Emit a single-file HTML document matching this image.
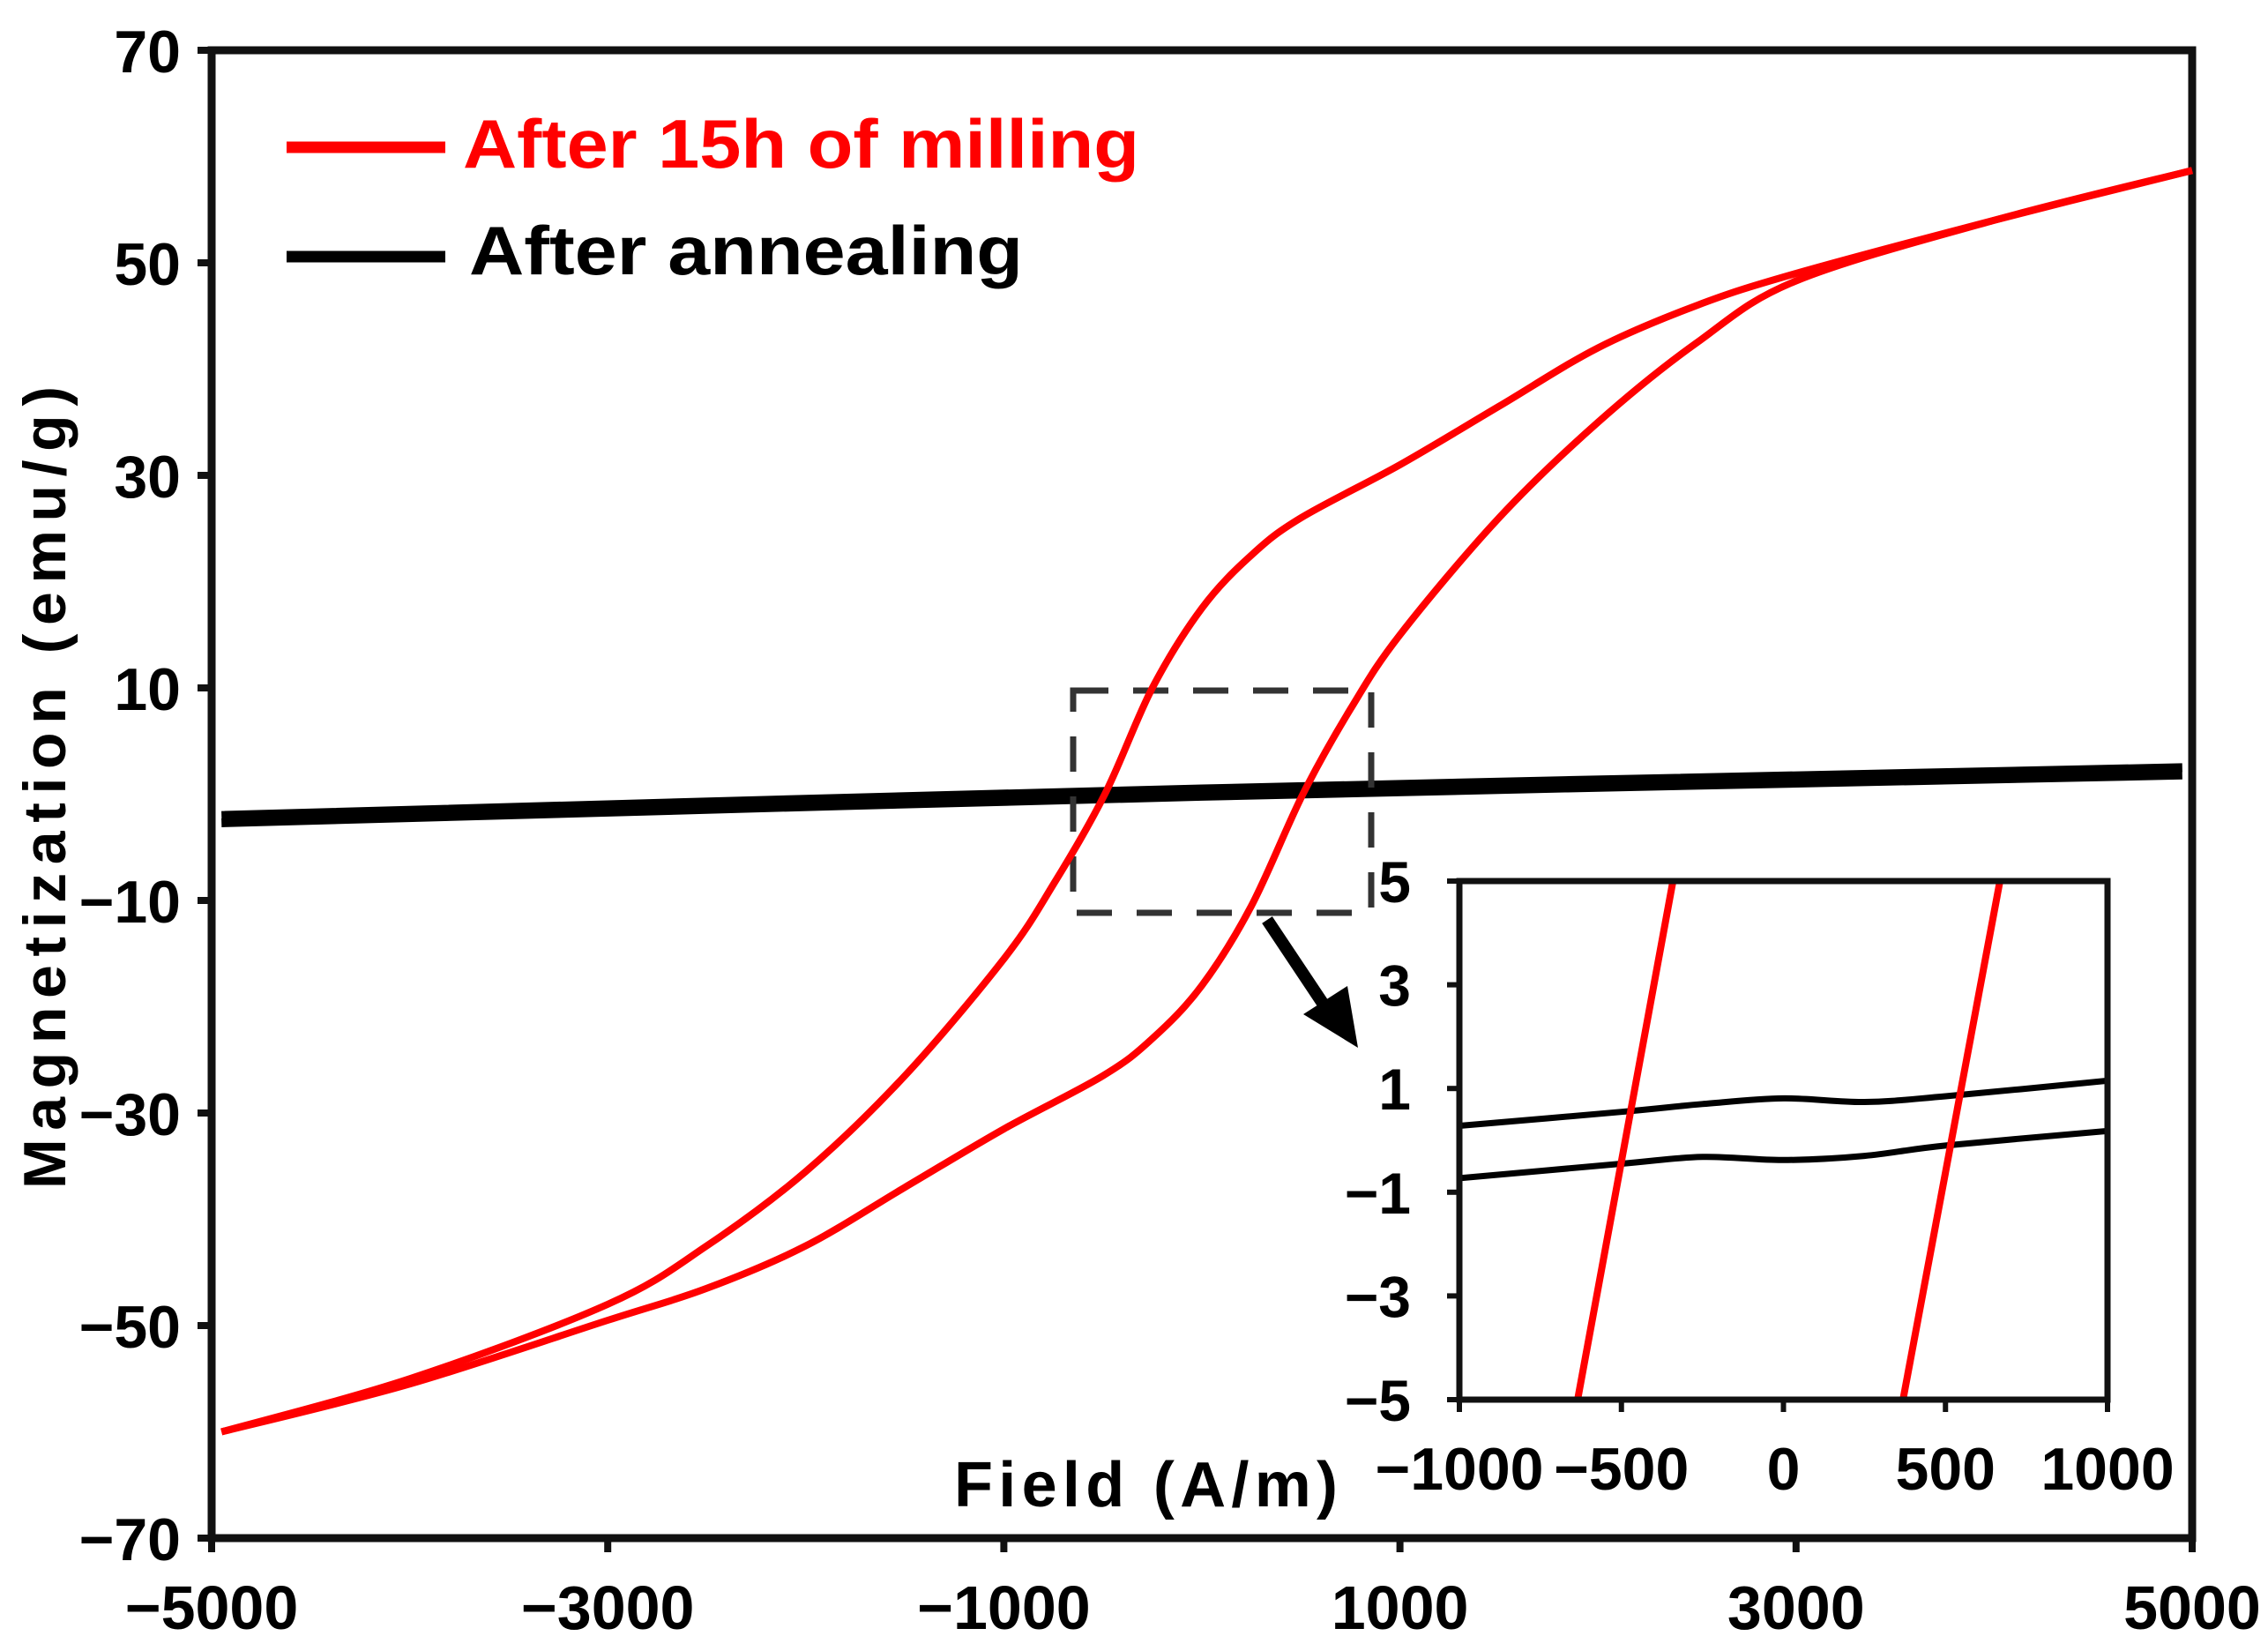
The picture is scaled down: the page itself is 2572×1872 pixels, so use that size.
<!DOCTYPE html>
<html><head><meta charset="utf-8"><style>
html,body{margin:0;padding:0;background:#fff;}
svg{display:block;}
text{font-family:"Liberation Sans Narrow","Liberation Sans",sans-serif;}
</style></head><body>
<svg id="chart" width="2572" height="1872" viewBox="0 0 2572 1872" xmlns="http://www.w3.org/2000/svg">
<rect x="0" y="0" width="2572" height="1872" fill="#fff"/>
<g id="main"></g>
<g id="inset"></g>
</svg>
<script>
// ---- main chart data ----
const xTicks = [-5000, -3000, -1000, 1000, 3000, 5000];
const xTickLabels = ["\u22125000", "\u22123000", "\u22121000", "1000", "3000", "5000"];
const yTicks = [70, 50, 30, 10, -10, -30, -50, -70];
const yTickLabels = ["70", "50", "30", "10", "\u221210", "\u221230", "\u221250", "\u221270"];
const milledDescH = [5000, 4000, 3000, 2500, 2000, 1500, 1000, 500, 250, 0, -250, -490, -750, -1000, -1500, -2000, -2500, -3000, -4000, -4950];
const milledDescM = [58.7, 54, 49, 46, 42, 36.5, 31, 26, 22.5, 17.5, 10, 0, -8.5, -15.5, -26.5, -35.5, -42.5, -48, -55, -60];
const milledAscH = [-4950, -4000, -3000, -2500, -2000, -1500, -1000, -500, -250, 0, 250, 510, 750, 1000, 1500, 2000, 2500, 3000, 4000, 5000];
const milledAscM = [-60, -55.5, -49.5, -46.5, -42.5, -37, -31.5, -26.5, -23, -18, -10.5, 0, 8, 15, 26, 35, 42.5, 48.3, 54, 58.7];
const annealUpH = [-4950, 0, 4950];
const annealUpM = [-2.0, 0.5, 2.5];
const annealLowH = [-4950, 0, 4950];
const annealLowM = [-2.7, -0.2, 1.8];
// ---- inset data ----
const insetXTicks = [-1000, -500, 0, 500, 1000];
const insetXLabels = ["\u22121000", "\u2212500", "0", "500", "1000"];
const insetYTicks = [5, 3, 1, -1, -3, -5];
const insetYLabels = ["5", "3", "1", "\u22121", "\u22123", "\u22125"];
const insetRed1H = [-635, -341];
const insetRed1M = [-5, 5];
const insetRed2H = [369, 668];
const insetRed2M = [-5, 5];
const insetUpH = [-1000, -500, -250, 0, 250, 500, 1000];
const insetUpM = [0.28, 0.55, 0.7, 0.81, 0.74, 0.85, 1.15];
const insetLowH = [-1000, -500, -250, 0, 250, 500, 1000];
const insetLowM = [-0.73, -0.45, -0.32, -0.38, -0.3, -0.1, 0.18];

const NS = "http://www.w3.org/2000/svg";
function mk(tag, attrs, parent) {
  const e = document.createElementNS(NS, tag);
  for (const k in attrs) e.setAttribute(k, attrs[k]);
  parent.appendChild(e);
  return e;
}
const main = document.getElementById('main');
const inset = document.getElementById('inset');

const L = 240, R = 2486, T = 57, B = 1744;
const xs = v => L + (v + 5000) / 10000 * (R - L);
const ys = v => T + (70 - v) / 140 * (B - T);
const IL = 1655, IR = 2390, IT = 999, IB = 1587;
const ixs = v => IL + (v + 1000) / 2000 * (IR - IL);
const iys = v => IT + (5 - v) / 10 * (IB - IT);

function smoothPath(X, Y, fx, fy) {
  const p = X.map((x, i) => [fx(x), fy(Y[i])]);
  let d = "M" + p[0][0].toFixed(1) + "," + p[0][1].toFixed(1);
  for (let i = 0; i < p.length - 1; i++) {
    const p0 = p[Math.max(0, i - 1)], p1 = p[i], p2 = p[i + 1], p3 = p[Math.min(p.length - 1, i + 2)];
    const c1 = [p1[0] + (p2[0] - p0[0]) / 6, p1[1] + (p2[1] - p0[1]) / 6];
    const c2 = [p2[0] - (p3[0] - p1[0]) / 6, p2[1] - (p3[1] - p1[1]) / 6];
    d += " C" + c1[0].toFixed(1) + "," + c1[1].toFixed(1) + " " + c2[0].toFixed(1) + "," + c2[1].toFixed(1) + " " + p2[0].toFixed(1) + "," + p2[1].toFixed(1);
  }
  return d;
}

const frame = mk('rect', {x: L, y: T, width: R - L, height: B - T, fill: 'none', stroke: '#111', 'stroke-width': 9}, main);



xTicks.forEach((v, i) => {
  const t = mk('line', {x1: xs(v), x2: xs(v), y1: B, y2: B + 16, stroke: '#111', 'stroke-width': 8}, main);
  
  
  const lb = mk('text', {x: xs(v), y: 1847, 'text-anchor': 'middle', 'font-size': 70, 'font-weight': 'bold', fill: '#000'}, main);
  lb.textContent = xTickLabels[i];
  
  
});
yTicks.forEach((v, i) => {
  const t = mk('line', {x1: L - 16, x2: L, y1: ys(v), y2: ys(v), stroke: '#111', 'stroke-width': 8}, main);
  
  
  const lb = mk('text', {x: 205, y: ys(v) + 25, 'text-anchor': 'end', 'font-size': 68, 'font-weight': 'bold', fill: '#000'}, main);
  lb.textContent = yTickLabels[i];
  
  
});

const yTitle = mk('text', {x: 0, y: 0, transform: 'translate(74,893) rotate(-90)', 'text-anchor': 'middle', 'font-size': 68, 'font-weight': 'bold', fill: '#000', textLength: 910, lengthAdjust: 'spacing', style: 'font-family:"Liberation Sans",sans-serif'}, main);
yTitle.textContent = "Magnetization (emu/g)";



const xTitle = mk('text', {x: 1082, y: 1708, 'font-size': 72, 'font-weight': 'bold', fill: '#000', textLength: 435, lengthAdjust: 'spacing', style: 'font-family:"Liberation Sans",sans-serif'}, main);
xTitle.textContent = "Field (A/m)";



const lg1 = mk('line', {x1: 325, x2: 505, y1: 167, y2: 167, stroke: '#ff0000', 'stroke-width': 13}, main);


const lt1 = mk('text', {x: 525, y: 190, 'font-size': 78, 'font-weight': 'bold', fill: '#ff0000', textLength: 767, lengthAdjust: 'spacingAndGlyphs', style: 'font-family:"Liberation Sans",sans-serif'}, main);
lt1.textContent = "After 15h of milling";


const lg2 = mk('line', {x1: 325, x2: 505, y1: 291, y2: 291, stroke: '#000', 'stroke-width': 13}, main);


const lt2 = mk('text', {x: 532, y: 311, 'font-size': 78, 'font-weight': 'bold', fill: '#000', textLength: 628, lengthAdjust: 'spacingAndGlyphs', style: 'font-family:"Liberation Sans",sans-serif'}, main);
lt2.textContent = "After annealing";



const a1 = mk('path', {d: smoothPath(annealUpH, annealUpM, xs, ys), fill: 'none', stroke: '#000', 'stroke-width': 10}, main);


const a2 = mk('path', {d: smoothPath(annealLowH, annealLowM, xs, ys), fill: 'none', stroke: '#000', 'stroke-width': 10}, main);



const box = mk('rect', {x: 1217, y: 783, width: 338, height: 252, fill: 'none', stroke: '#333', 'stroke-width': 7, 'stroke-dasharray': '40,28'}, main);



const r1 = mk('path', {d: smoothPath(milledDescH, milledDescM, xs, ys), fill: 'none', stroke: '#ff0000', 'stroke-width': 8}, main);


const r2 = mk('path', {d: smoothPath(milledAscH, milledAscM, xs, ys), fill: 'none', stroke: '#ff0000', 'stroke-width': 8}, main);



const arr = mk('line', {x1: 1437, y1: 1043, x2: 1505, y2: 1145, stroke: '#000', 'stroke-width': 14}, main);


const arrh = mk('polygon', {points: '1478,1150 1540,1188 1528,1118', fill: '#000'}, main);



const ibg = mk('rect', {x: IL, y: IT, width: IR - IL, height: IB - IT, fill: '#fff'}, inset);


const clip = mk('clipPath', {id: 'ic'}, inset);
mk('rect', {x: IL, y: IT, width: IR - IL, height: IB - IT}, clip);
const ig = mk('g', {'clip-path': 'url(#ic)'}, inset);
[[insetUpH, insetUpM, 'inset-annealed-upper'], [insetLowH, insetLowM, 'inset-annealed-lower']].forEach(s => {
  const p = mk('path', {d: smoothPath(s[0], s[1], ixs, iys), fill: 'none', stroke: '#000', 'stroke-width': 7}, ig);
  
  
});
[[insetRed1H, insetRed1M, 'inset-milled-descending'], [insetRed2H, insetRed2M, 'inset-milled-ascending']].forEach(s => {
  const p = mk('path', {d: smoothPath(s[0], s[1], ixs, iys), fill: 'none', stroke: '#ff0000', 'stroke-width': 8}, ig);
  
  
});
const iframe = mk('rect', {x: IL, y: IT, width: IR - IL, height: IB - IT, fill: 'none', stroke: '#111', 'stroke-width': 7}, inset);


insetXTicks.forEach((v, i) => {
  const t = mk('line', {x1: ixs(v), x2: ixs(v), y1: IB, y2: IB + 14, stroke: '#111', 'stroke-width': 6}, inset);
  
  
  const lb = mk('text', {x: ixs(v), y: 1689, 'text-anchor': 'middle', 'font-size': 68, 'font-weight': 'bold', fill: '#000'}, inset);
  lb.textContent = insetXLabels[i];
  
  
});
insetYTicks.forEach((v, i) => {
  const t = mk('line', {x1: IL - 14, x2: IL, y1: iys(v), y2: iys(v), stroke: '#111', 'stroke-width': 6}, inset);
  
  
  const lb = mk('text', {x: 1600, y: iys(v) + 24, 'text-anchor': 'end', 'font-size': 66, 'font-weight': 'bold', fill: '#000'}, inset);
  lb.textContent = insetYLabels[i];
  
  
});
</script>
</body></html>
